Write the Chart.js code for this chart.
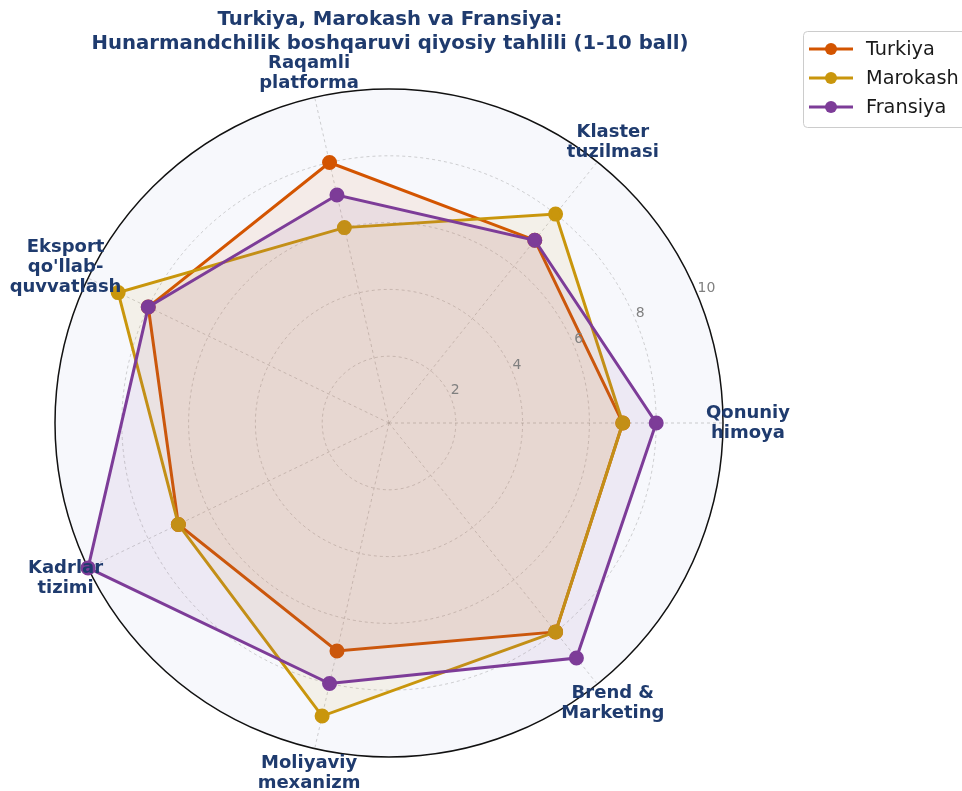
<!DOCTYPE html>
<html>
<head>
<meta charset="utf-8">
<script src="https://cdn.jsdelivr.net/npm/chart.js@4.4.0/dist/chart.umd.min.js"></script>
<style>
    body { margin: 0; background: #ffffff; }
    #wrap { position: relative; width: 962px; height: 791px; }
</style>
</head>
<body>
<div id="wrap"><canvas id="radar"></canvas></div>
<script>
// Criteria, clockwise from the right (Chart.js goes clockwise)
const categories = [
    ["Qonuniy", "himoya"],
    ["Brend &", "Marketing"],
    ["Moliyaviy", "mexanizm"],
    ["Kadrlar", "tizimi"],
    ["Eksport", "qo'llab-", "quvvatlash"],
    ["Raqamli", "platforma"],
    ["Klaster", "tuzilmasi"]
];
const turkiya = [7, 8, 7, 7, 8, 8, 7];
const marokash = [7, 8, 9, 7, 9, 6, 8];
const fransiya = [8, 9, 8, 10, 8, 7, 7];
const tickValues = [2, 4, 6, 8, 10];

const titleLines = ["Turkiya, Marokash va Fransiya:", "Hunarmandchilik boshqaruvi qiyosiy tahlili (1-10 ball)"];
const navy = "#1f3b6e";
const colors = { Turkiya: "#d35400", Marokash: "#c9960c", Fransiya: "#7d3c98" };
const fills = { Turkiya: "rgba(211,84,0,0.08)", Marokash: "rgba(201,150,12,0.08)", Fransiya: "rgba(125,60,152,0.08)" };

function makeSet(name, data, order) {
    return {
        label: name,
        data: data,
        order: order,
        borderColor: colors[name],
        backgroundColor: fills[name],
        pointBackgroundColor: colors[name],
        pointBorderColor: colors[name],
        pointRadius: 6,
        borderWidth: 3,
        fill: true
    };
}

// polar background, tick labels, point labels, title and legend
const decor = {
    id: "decor",
    beforeDraw(chart) {
        const r = chart.scales.r;
        const ctx = chart.ctx;
        ctx.save();
        ctx.fillStyle = "#f7f8fc";
        ctx.beginPath();
        ctx.arc(r.xCenter, r.yCenter, r.drawingArea, 0, Math.PI * 2);
        ctx.fill();
        ctx.restore();
    },
    afterDraw(chart) {
        const r = chart.scales.r;
        const ctx = chart.ctx;
        ctx.save();

        // radial tick labels at 22.5 degrees
        const a = 22.5 * Math.PI / 180;
        ctx.font = "14px 'DejaVu Sans'";
        ctx.fillStyle = "#808080";
        ctx.textAlign = "left";
        ctx.textBaseline = "bottom";
        tickValues.forEach(v => {
            const d = r.getDistanceFromCenterForValue(v);
            ctx.fillText(String(v), r.xCenter + Math.cos(a) * d, r.yCenter - Math.sin(a) * d);
        });

        // point labels, centred like matplotlib
        ctx.font = "bold 18px 'DejaVu Sans'";
        ctx.fillStyle = navy;
        ctx.textAlign = "center";
        ctx.textBaseline = "middle";
        const lh = 20;
        categories.forEach((lines, i) => {
            const p = r.getPointPosition(i, r.drawingArea + 25);
            const y0 = p.y - (lines.length - 1) * lh / 2;
            lines.forEach((t, k) => ctx.fillText(t, p.x, y0 + k * lh));
        });

        // title
        ctx.font = "bold 19.7px 'DejaVu Sans'";
        ctx.fillText(titleLines[0], 390, 20);
        ctx.fillText(titleLines[1], 390, 44);

        // legend
        const lx = 803, ly = 31;
        ctx.fillStyle = "rgba(255,255,255,0.85)";
        ctx.strokeStyle = "#cccccc";
        ctx.lineWidth = 1;
        ctx.beginPath();
        ctx.roundRect(lx + 0.5, ly + 0.5, 200, 96, 4);
        ctx.fill();
        ctx.stroke();
        ctx.font = "19.3px 'DejaVu Sans'";
        ctx.textAlign = "left";
        chart.data.datasets.forEach((ds, i) => {
            const y = ly + 18 + i * 29;
            ctx.strokeStyle = ds.borderColor;
            ctx.lineWidth = 3;
            ctx.beginPath();
            ctx.moveTo(lx + 6, y);
            ctx.lineTo(lx + 50, y);
            ctx.stroke();
            ctx.fillStyle = ds.borderColor;
            ctx.beginPath();
            ctx.arc(lx + 28, y, 6, 0, Math.PI * 2);
            ctx.fill();
            ctx.fillStyle = "#1a1a1a";
            ctx.fillText(ds.label, lx + 63, y + 1);
        });
        ctx.restore();
    }
};

new Chart(document.getElementById("radar"), {
    type: "radar",
    data: {
        labels: categories,
        datasets: [
            makeSet("Turkiya", turkiya, 3),
            makeSet("Marokash", marokash, 2),
            makeSet("Fransiya", fransiya, 1)
        ]
    },
    options: {
        responsive: true,
        maintainAspectRatio: false,
        animation: false,
        layout: { padding: { left: 55, right: 239, top: 89, bottom: 34 } },
        plugins: {
            legend: { display: false },
            tooltip: { enabled: false }
        },
        scales: {
            r: {
                startAngle: 90,
                min: 0,
                max: 10,
                ticks: { stepSize: 2, display: false },
                pointLabels: { display: false },
                grid: {
                    circular: true,
                    color: ctx => ctx.tick && ctx.tick.value === 10 ? "#111111" : "rgba(150,150,150,0.55)",
                    lineWidth: ctx => ctx.tick && ctx.tick.value === 10 ? 1.5 : 0.8
                },
                border: {
                    dash: ctx => ctx.tick && ctx.tick.value === 10 ? [] : [3, 3]
                },
                angleLines: {
                    color: "rgba(150,150,150,0.55)",
                    lineWidth: 0.8,
                    borderDash: [3, 3]
                }
            }
        }
    },
    plugins: [decor]
});
</script>
</body>
</html>
